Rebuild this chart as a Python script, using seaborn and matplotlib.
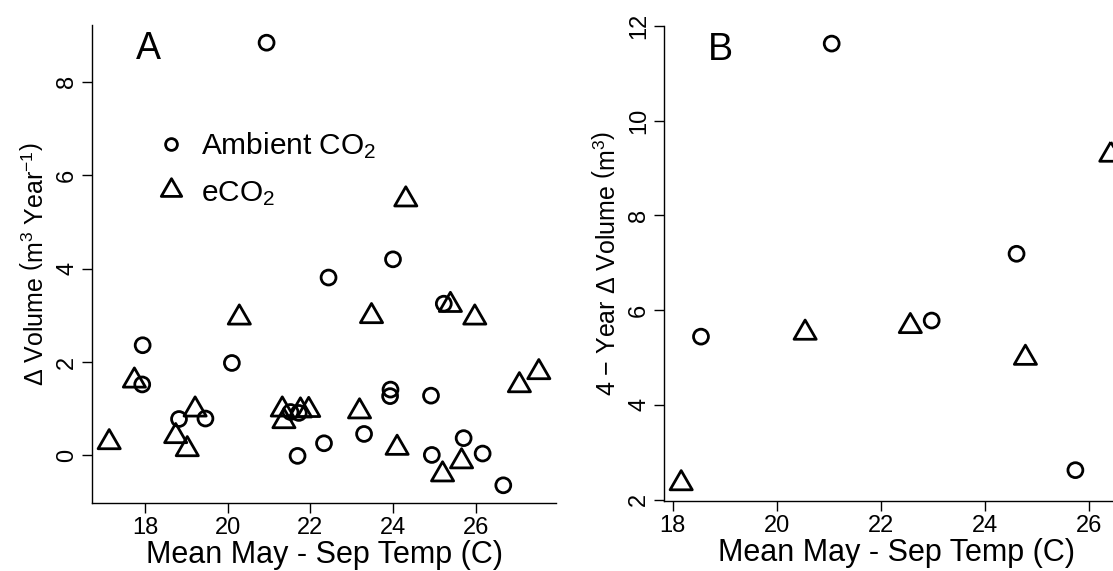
import numpy as np
import pandas as pd
import matplotlib
matplotlib.use("Agg")
import matplotlib.pyplot as plt
from matplotlib.lines import Line2D
from matplotlib.path import Path
import seaborn as sns

# ---- Panel A: annual change in volume vs. mean growing-season temperature
a_amb_temp = [20.94, 24.00, 22.44, 25.23, 17.94, 20.10, 17.93, 23.94, 23.93, 24.92,
              18.82, 19.46, 21.52, 21.72, 21.69, 22.33, 23.30, 24.94, 25.71, 26.17, 26.67]
a_amb_vol = [8.84, 4.20, 3.81, 3.25, 2.36, 1.98, 1.52, 1.41, 1.27, 1.28,
             0.78, 0.79, 0.93, 0.91, -0.01, 0.26, 0.46, 0.01, 0.37, 0.04, -0.64]
a_eco2_temp = [24.31, 25.39, 20.28, 23.48, 25.98, 17.74, 27.53, 27.06, 19.21, 18.74,
               19.02, 17.13, 21.32, 21.36, 21.76, 21.96, 23.19, 24.10, 25.20, 25.66]
a_eco2_vol = [5.48, 3.22, 2.95, 2.98, 2.95, 1.60, 1.78, 1.50, 0.98, 0.41,
              0.13, 0.28, 0.98, 0.73, 0.96, 0.97, 0.94, 0.16, -0.41, -0.13]

# ---- Panel B: 4-year change in volume
b_amb_temp = [21.05, 24.60, 18.54, 22.97, 25.73]
b_amb_vol = [11.63, 7.19, 5.44, 5.78, 2.62]
b_eco2_temp = [26.41, 20.54, 22.56, 24.77, 18.16]
b_eco2_vol = [9.28, 5.52, 5.66, 4.99, 2.34]

a_xticks = [18, 20, 22, 24, 26]
a_yticks = [0, 2, 4, 6, 8]
b_xticks = [18, 20, 22, 24, 26]
b_yticks = [2, 4, 6, 8, 10, 12]

sns.set_theme(style="white")
plt.rcParams["font.family"] = ["Liberation Sans", "DejaVu Sans"]
plt.rcParams["text.color"] = "black"
plt.rcParams["axes.labelcolor"] = "black"
plt.rcParams["mathtext.fontset"] = "custom"
plt.rcParams["mathtext.rm"] = "Liberation Sans"
plt.rcParams["mathtext.it"] = "Liberation Sans:italic"
plt.rcParams["mathtext.bf"] = "Liberation Sans:bold"

# equilateral triangle centred on its centroid
TRI = Path([(0, 1), (0.866, -0.5), (-0.866, -0.5), (0, 1)],
           [Path.MOVETO, Path.LINETO, Path.LINETO, Path.CLOSEPOLY])

CIRC_S = 115
TRI_S = 340
LW = 2.0


def frame(v, pad=0.04):
    lo, hi = min(v), max(v)
    d = (hi - lo) * pad
    return lo - d, hi + d


def style_axes(ax, xticks, yticks):
    for side in ("top", "right"):
        ax.spines[side].set_visible(False)
    for side in ("left", "bottom"):
        ax.spines[side].set_color("black")
        ax.spines[side].set_linewidth(1.0)
    ax.set_xticks(xticks)
    ax.set_yticks(yticks)
    ax.tick_params(axis="both", direction="out", length=7, width=1.0,
                   color="black", labelsize=17, labelcolor="black",
                   left=True, bottom=True, pad=3)
    for lab in ax.get_yticklabels():
        lab.set_rotation(90)
        lab.set_va("center")
    ax.grid(False)


def draw(ax, amb_x, amb_y, eco_x, eco_y):
    sns.scatterplot(x=amb_x, y=amb_y, marker="o", s=CIRC_S, facecolor="none",
                    edgecolor="black", linewidth=LW, ax=ax, zorder=3)
    sns.scatterplot(x=eco_x, y=eco_y, marker=TRI, s=TRI_S, facecolor="none",
                    edgecolor="black", linewidth=LW, ax=ax, zorder=3)
    ax.set_xlim(*frame(list(amb_x) + list(eco_x)))
    ax.set_ylim(*frame(list(amb_y) + list(eco_y)))


fig = plt.figure(figsize=(11.13, 5.71), dpi=100)
W, H = 1113, 571

axA = fig.add_axes([92 / W, 1 - 503 / H, (556 - 92) / W, (503 - 25) / H])
axB = fig.add_axes([664 / W, 1 - 501 / H, (1128 - 664) / W, (501 - 26) / H])

draw(axA, a_amb_temp, a_amb_vol, a_eco2_temp, a_eco2_vol)
draw(axB, b_amb_temp, b_amb_vol, b_eco2_temp, b_eco2_vol)
style_axes(axA, a_xticks, a_yticks)
style_axes(axB, b_xticks, b_yticks)

xlab = "Mean May - Sep Temp (C)"
axA.set_xlabel(xlab, fontsize=22, labelpad=1)
axB.set_xlabel(xlab, fontsize=22, labelpad=1)
axA.set_ylabel(r"$\Delta$ Volume $\left(\mathrm{m}^{3}\ \mathrm{Year}^{-1}\right)$",
               fontsize=18, labelpad=6)
axB.set_ylabel(r"4 $-$ Year $\Delta$ Volume $\left(\mathrm{m}^{3}\right)$",
               fontsize=18, labelpad=6)

axA.text(0.121, 0.95, "A", transform=axA.transAxes, fontsize=27,
         ha="center", va="center")
axB.text(0.121, 0.949, "B", transform=axB.transAxes, fontsize=27,
         ha="center", va="center")

handles = [
    Line2D([], [], linestyle="none", marker="o", markersize=8.5,
           markerfacecolor="none", markeredgecolor="black", markeredgewidth=LW),
    Line2D([], [], linestyle="none", marker=TRI, markersize=17,
           markerfacecolor="none", markeredgecolor="black", markeredgewidth=LW),
]
axA.legend(handles, ["Ambient CO$_2$", "eCO$_2$"], loc="upper left",
           bbox_to_anchor=(0.112, 0.805), frameon=False, fontsize=21.5,
           handletextpad=0.5, labelspacing=0.6, borderaxespad=0,
           handlelength=1.0, labelcolor="black")

fig.savefig("out.png", dpi=100)
